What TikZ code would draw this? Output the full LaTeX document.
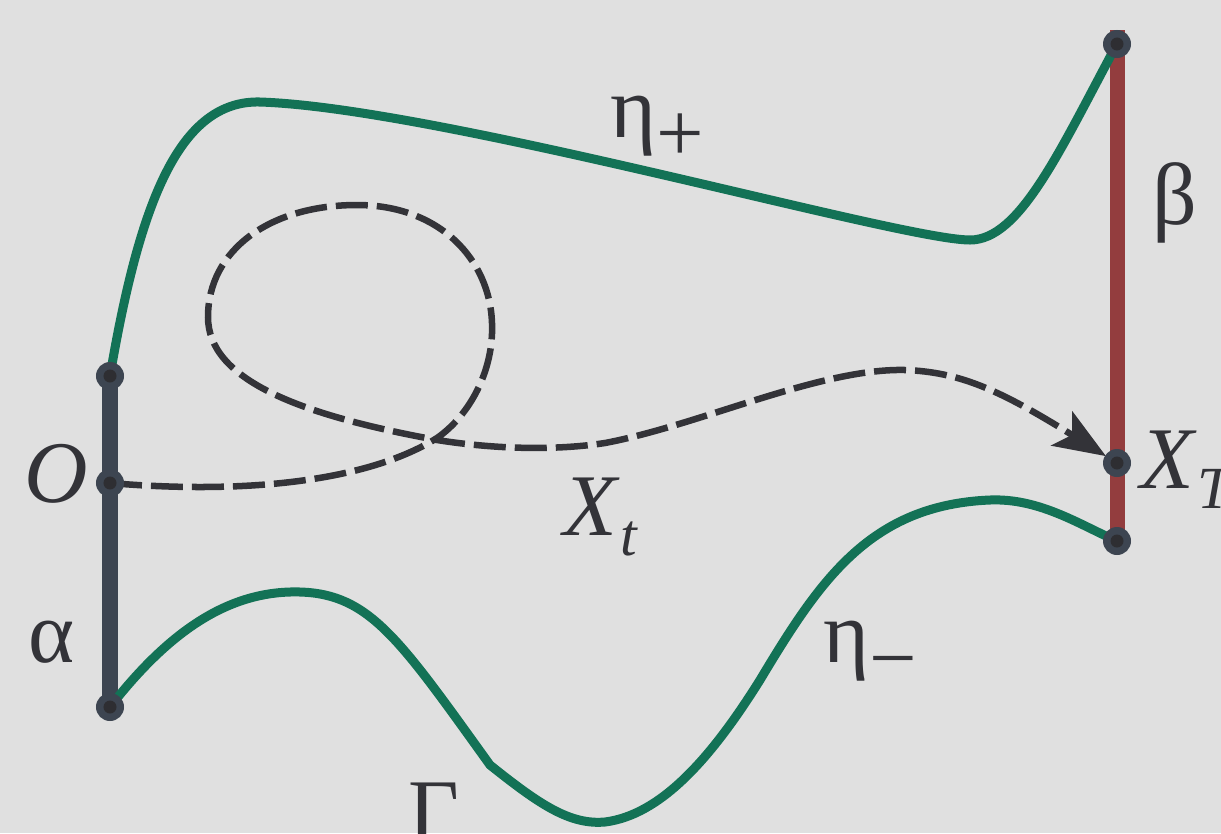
\documentclass[tikz,border=0pt]{standalone}
\usepackage{fontspec}
\setmainfont{Liberation Serif}
\usetikzlibrary{arrows.meta}
\definecolor{bgc}{HTML}{E0E0E0}
\definecolor{pathgreen}{HTML}{137256}
\definecolor{betared}{HTML}{933D3E}
\definecolor{alphagray}{HTML}{3D4551}
\definecolor{inkc}{HTML}{333338}
\newcommand{\lbl}{\fontsize{25}{30}\selectfont}
\newcommand{\sbs}[2][0.2cm]{\raisebox{-#1}{\fontsize{17}{20}\selectfont #2}}
\newcommand{\sgn}[1]{\raisebox{-0.24cm}{\fontsize{24}{28}\selectfont #1}}
\begin{document}
\begin{tikzpicture}[x=0.01cm, y=-0.01cm,
    curve/.style={line width=0.09cm, color=pathgreen},
    walk/.style={line width=0.065cm, color=inkc, dash pattern=on 0.32cm off 0.09cm},
    pt/.style={circle, fill=alphagray, inner sep=0pt, minimum size=0.28cm,
      path picture={\fill[inkc!90!black] (path picture bounding box.center) circle (0.065cm);}},
    lab/.style={text=inkc, font=\lbl, inner sep=0pt}]
  \useasboundingbox (0,0) rectangle (1221,833);
  \fill[bgc] (0,0) rectangle (1221,833);
  % end points
  \coordinate (atop) at (110,376);
  \coordinate (O) at (110,483);
  \coordinate (abot) at (110,707);
  \coordinate (bend) at (1117,30);
  \coordinate (btop) at (1117,44);
  \coordinate (XT) at (1117,463);
  \coordinate (bbot) at (1117,541);
  % boundary pieces
  \draw[line width=0.15cm, betared] (bend) -- (bbot);
  \draw[line width=0.15cm, alphagray] (atop) -- (abot);
  \draw[curve] (atop) .. controls (140,200) and (180,100) .. (260,102)
    .. controls (440,108) and (900,240) .. (970,240)
    .. controls (1020,240) and (1060,150) .. (btop);
  \draw[curve] (abot) .. controls (170,630) and (230,590) .. (300,592)
    .. controls (370,594) and (400,640) .. (490,765)
    .. controls (540,805) and (570,825) .. (605,822)
    .. controls (660,815) and (710,760) .. (760,680)
    .. controls (820,580) and (870,505) .. (990,500)
    .. controls (1040,498) and (1080,525) .. (bbot);
  % the path
  \draw[walk, -{Stealth[length=0.52cm, width=0.4cm, inset=0.12cm]}, shorten >=0.13cm]
    (O) .. controls (250,495) and (370,480) .. (437,438)
    .. controls (470,415) and (494,370) .. (492,323)
    .. controls (490,260) and (440,205) .. (357,205)
    .. controls (270,205) and (208,250) .. (208,317)
    .. controls (208,380) and (300,415) .. (437,440)
    .. controls (500,450) and (560,450) .. (605,443)
    .. controls (700,425) and (820,368) .. (905,370)
    .. controls (960,372) and (1000,390) .. (XT);
  \foreach \p in {atop,O,abot,btop,XT,bbot}
    \node[pt] (\p-dot) at (\p) {};
  % labels
  \node[lab, anchor=base] (olab) at (56,502) {\textit{O}};
  \node[lab, anchor=base] (alab) at (52,662) {α};
  \node[lab, anchor=base] (blab) at (1175,224) {β};
  \node[lab, anchor=base west] (etap) at (610,137) {η\sgn{+}};
  \node[lab, anchor=base west] (etam) at (823,662) {η\sgn{−}};
  \node[lab, anchor=base west] (xt) at (563,535) {\textit{X}\sbs{\textit{t}}};
  \node[lab, anchor=base west] (xT) at (1140,488) {\textit{X}\sbs{\textit{T}}};
  \node[lab, anchor=base west] (gam) at (408,840) {Γ};
\end{tikzpicture}
\end{document}
